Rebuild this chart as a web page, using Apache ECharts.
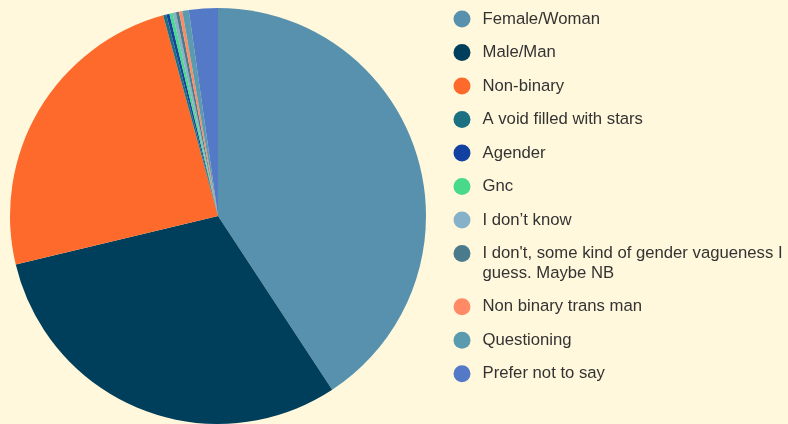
<!DOCTYPE html>
<html>
<head>
<meta charset="utf-8">
<script src="https://cdn.jsdelivr.net/npm/echarts@6/dist/echarts.min.js"></script>
<style>
  html, body { margin: 0; padding: 0; background: #fff8dc; }
  #chart { width: 788px; height: 424px; }
</style>
</head>
<body>
<div id="chart"></div>
<script>
// Gender identity responses
const categories = [
  'Female/Woman',
  'Male/Man',
  'Non-binary',
  'A void filled with stars',
  'Agender',
  'Gnc',
  'I don\u2019t know',
  'I don\'t, some kind of gender vagueness I guess. Maybe NB',
  'Non binary trans man',
  'Questioning',
  'Prefer not to say'
];
const counts = [163, 122, 98, 1, 1, 1, 1, 1, 1, 2, 9];
const colors = [
  '#5891ad', '#003f5c', '#fd6a2c', '#1b7182', '#1341a1', '#48d98b',
  '#86b1c9', '#4a7b8d', '#ff8a65', '#5a9bb0', '#5479c7'
];

const pieData = categories.map((name, i) => ({
  name: name,
  value: counts[i],
  itemStyle: { color: colors[i] }
}));

// The long answer wraps onto two lines; a leading empty line keeps the
// marker level with the first line of text.
const wrapped = {
  'I don\'t, some kind of gender vagueness I guess. Maybe NB':
    '\nI don\'t, some kind of gender vagueness I\nguess. Maybe NB'
};

const legendBase = {
  orient: 'vertical',
  left: 453.5,
  padding: 0,
  itemWidth: 17,
  itemHeight: 17,
  itemGap: 15.0,
  icon: 'circle',
  selectedMode: false,
  textStyle: {
    fontFamily: 'Liberation Sans, Arial, sans-serif',
    fontSize: 16.7,
    lineHeight: 18.5,
    color: '#333333',
    padding: [0, 0, 0, 7]
  },
  formatter: name => wrapped[name] || name
};

const chart = echarts.init(document.getElementById('chart'), null, { renderer: 'canvas' });
chart.setOption({
  backgroundColor: '#fff8dc',
  animation: false,
  legend: [
    Object.assign({}, legendBase, {
      top: 9.75,
      data: categories.slice(0, 7)
    }),
    Object.assign({}, legendBase, {
      top: 224.4,
      data: [{
        name: categories[7],
        textStyle: { lineHeight: 19.4 }
      }].concat(categories.slice(8).map(n => ({ name: n })))
    })
  ],
  series: [{
    type: 'pie',
    center: [218, 216],
    radius: [0, 208],
    startAngle: 90,
    clockwise: true,
    label: { show: false },
    labelLine: { show: false },
    emphasis: { disabled: true },
    itemStyle: { borderWidth: 0 },
    data: pieData
  }]
});
</script>
</body>
</html>
